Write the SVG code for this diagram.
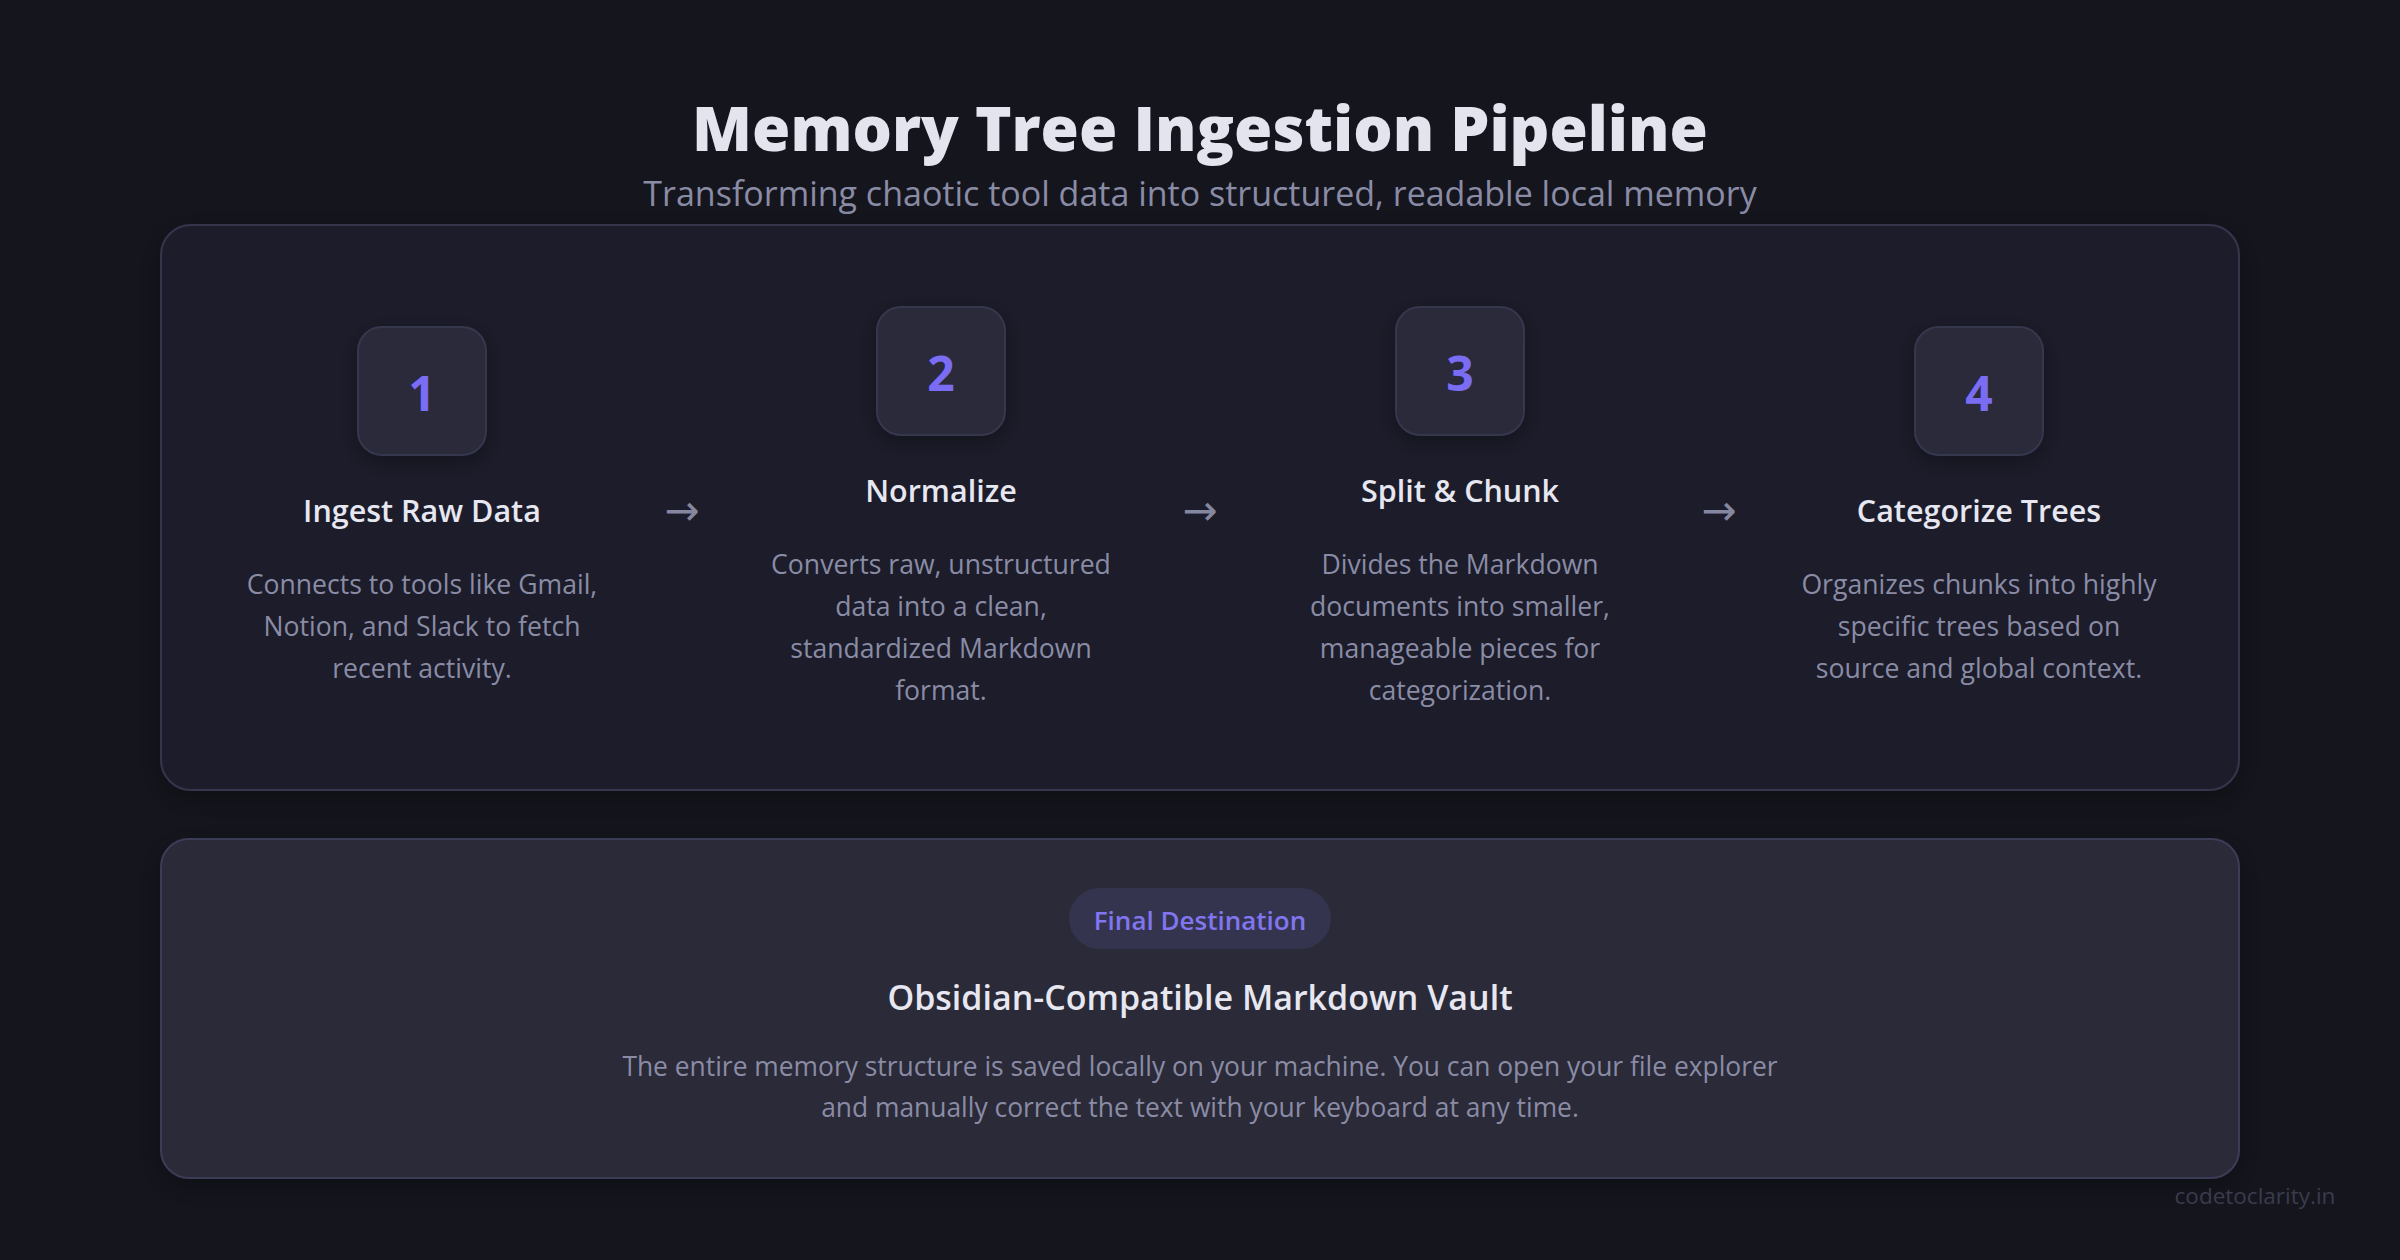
<svg xmlns="http://www.w3.org/2000/svg" width="2400" height="1260" viewBox="0 0 2400 1260">
  <defs>
    <filter id="shadow" x="-10%" y="-10%" width="120%" height="130%">
      <feDropShadow dx="0" dy="8" stdDeviation="14" flood-color="#000000" flood-opacity="0.35"/>
    </filter>
    <filter id="boxshadow" x="-30%" y="-30%" width="160%" height="170%">
      <feDropShadow dx="0" dy="6" stdDeviation="10" flood-color="#000000" flood-opacity="0.3"/>
    </filter>
    <style>
      .bg { fill: #15151e; }
      .panel { fill: #1f1f2c; stroke: #34354c; stroke-width: 2; }
      .panel2 { fill: #292a39; stroke: #3b3c57; stroke-width: 2; }
      .numbox { fill: #292a3a; stroke: #36374d; stroke-width: 2; }
      .num { font-family: "Open Sans", "Noto Sans", sans-serif; font-weight: 700; font-size: 48px; fill: #7b6cf4; text-anchor: middle; }
      .title { font-family: "Open Sans", "Noto Sans", sans-serif; font-weight: 800; font-size: 62px; fill: #e3e4ee; text-anchor: middle; }
      .subtitle { font-family: "Open Sans", "Noto Sans", sans-serif; font-size: 34px; fill: #8a8ca6; text-anchor: middle; }
      .stitle { font-family: "Open Sans", "Noto Sans", sans-serif; font-weight: 600; font-size: 30.5px; fill: #e6e7f0; text-anchor: middle; }
      .desc { font-family: "Open Sans", "Noto Sans", sans-serif; font-size: 26.6px; fill: #8a8ca6; text-anchor: middle; }
      .arrow { font-family: "DejaVu Sans", sans-serif; font-size: 42px; fill: #8587a0; text-anchor: middle; }
      .pill { fill: #35344f; }
      .pilltext { font-family: "Open Sans", "Noto Sans", sans-serif; font-weight: 600; font-size: 26px; fill: #8176f0; text-anchor: middle; }
      .vtitle { font-family: "Open Sans", "Noto Sans", sans-serif; font-weight: 600; font-size: 34px; fill: #e6e7f0; text-anchor: middle; }
      .vdesc { font-family: "Open Sans", "Noto Sans", sans-serif; font-size: 26.4px; fill: #8a8ca6; text-anchor: middle; }
      .mark { font-family: "Open Sans", "Noto Sans", sans-serif; font-size: 22.5px; fill: #3a3b4d; text-anchor: middle; }
    </style>
  </defs>

  <rect class="bg" x="0" y="0" width="2400" height="1260"/>

  <g id="header">
    <text class="title" x="1200" y="151">Memory Tree Ingestion Pipeline</text>
    <text class="subtitle" x="1200" y="206">Transforming chaotic tool data into structured, readable local memory</text>
  </g>

  <g id="pipeline-panel">
    <rect class="panel" x="161" y="225" width="2078" height="565" rx="30" filter="url(#shadow)"/>
  </g>

  <g id="step-1">
    <rect class="numbox" x="358" y="327" width="128" height="128" rx="24" filter="url(#boxshadow)"/>
    <text class="num" x="422" y="411">1</text>
    <text class="stitle" x="422" y="522">Ingest Raw Data</text>
    <text class="desc" x="422" y="594">Connects to tools like Gmail,</text>
    <text class="desc" x="422" y="636">Notion, and Slack to fetch</text>
    <text class="desc" x="422" y="678">recent activity.</text>
  </g>

  <g id="step-2">
    <rect class="numbox" x="877" y="307" width="128" height="128" rx="24" filter="url(#boxshadow)"/>
    <text class="num" x="941" y="391">2</text>
    <text class="stitle" x="941" y="502">Normalize</text>
    <text class="desc" x="941" y="574">Converts raw, unstructured</text>
    <text class="desc" x="941" y="616">data into a clean,</text>
    <text class="desc" x="941" y="658">standardized Markdown</text>
    <text class="desc" x="941" y="700">format.</text>
  </g>

  <g id="step-3">
    <rect class="numbox" x="1396" y="307" width="128" height="128" rx="24" filter="url(#boxshadow)"/>
    <text class="num" x="1460" y="391">3</text>
    <text class="stitle" x="1460" y="502">Split &amp; Chunk</text>
    <text class="desc" x="1460" y="574">Divides the Markdown</text>
    <text class="desc" x="1460" y="616">documents into smaller,</text>
    <text class="desc" x="1460" y="658">manageable pieces for</text>
    <text class="desc" x="1460" y="700">categorization.</text>
  </g>

  <g id="step-4">
    <rect class="numbox" x="1915" y="327" width="128" height="128" rx="24" filter="url(#boxshadow)"/>
    <text class="num" x="1979" y="411">4</text>
    <text class="stitle" x="1979" y="522">Categorize Trees</text>
    <text class="desc" x="1979" y="594">Organizes chunks into highly</text>
    <text class="desc" x="1979" y="636">specific trees based on</text>
    <text class="desc" x="1979" y="678">source and global context.</text>
  </g>

  <g id="connectors">
    <text class="arrow" x="682" y="525">→</text>
    <text class="arrow" x="1200" y="525">→</text>
    <text class="arrow" x="1719" y="525">→</text>
  </g>

  <g id="vault">
    <rect class="panel2" x="161" y="839" width="2078" height="339" rx="28" filter="url(#shadow)"/>
    <rect class="pill" x="1069" y="888" width="262" height="61" rx="30.5"/>
    <text class="pilltext" x="1200" y="930">Final Destination</text>
    <text class="vtitle" x="1200" y="1010">Obsidian-Compatible Markdown Vault</text>
    <text class="vdesc" x="1200" y="1076">The entire memory structure is saved locally on your machine. You can open your file explorer</text>
    <text class="vdesc" x="1200" y="1117">and manually correct the text with your keyboard at any time.</text>
  </g>

  <g id="watermark">
    <text class="mark" x="2255" y="1204">codetoclarity.in</text>
  </g>
</svg>
